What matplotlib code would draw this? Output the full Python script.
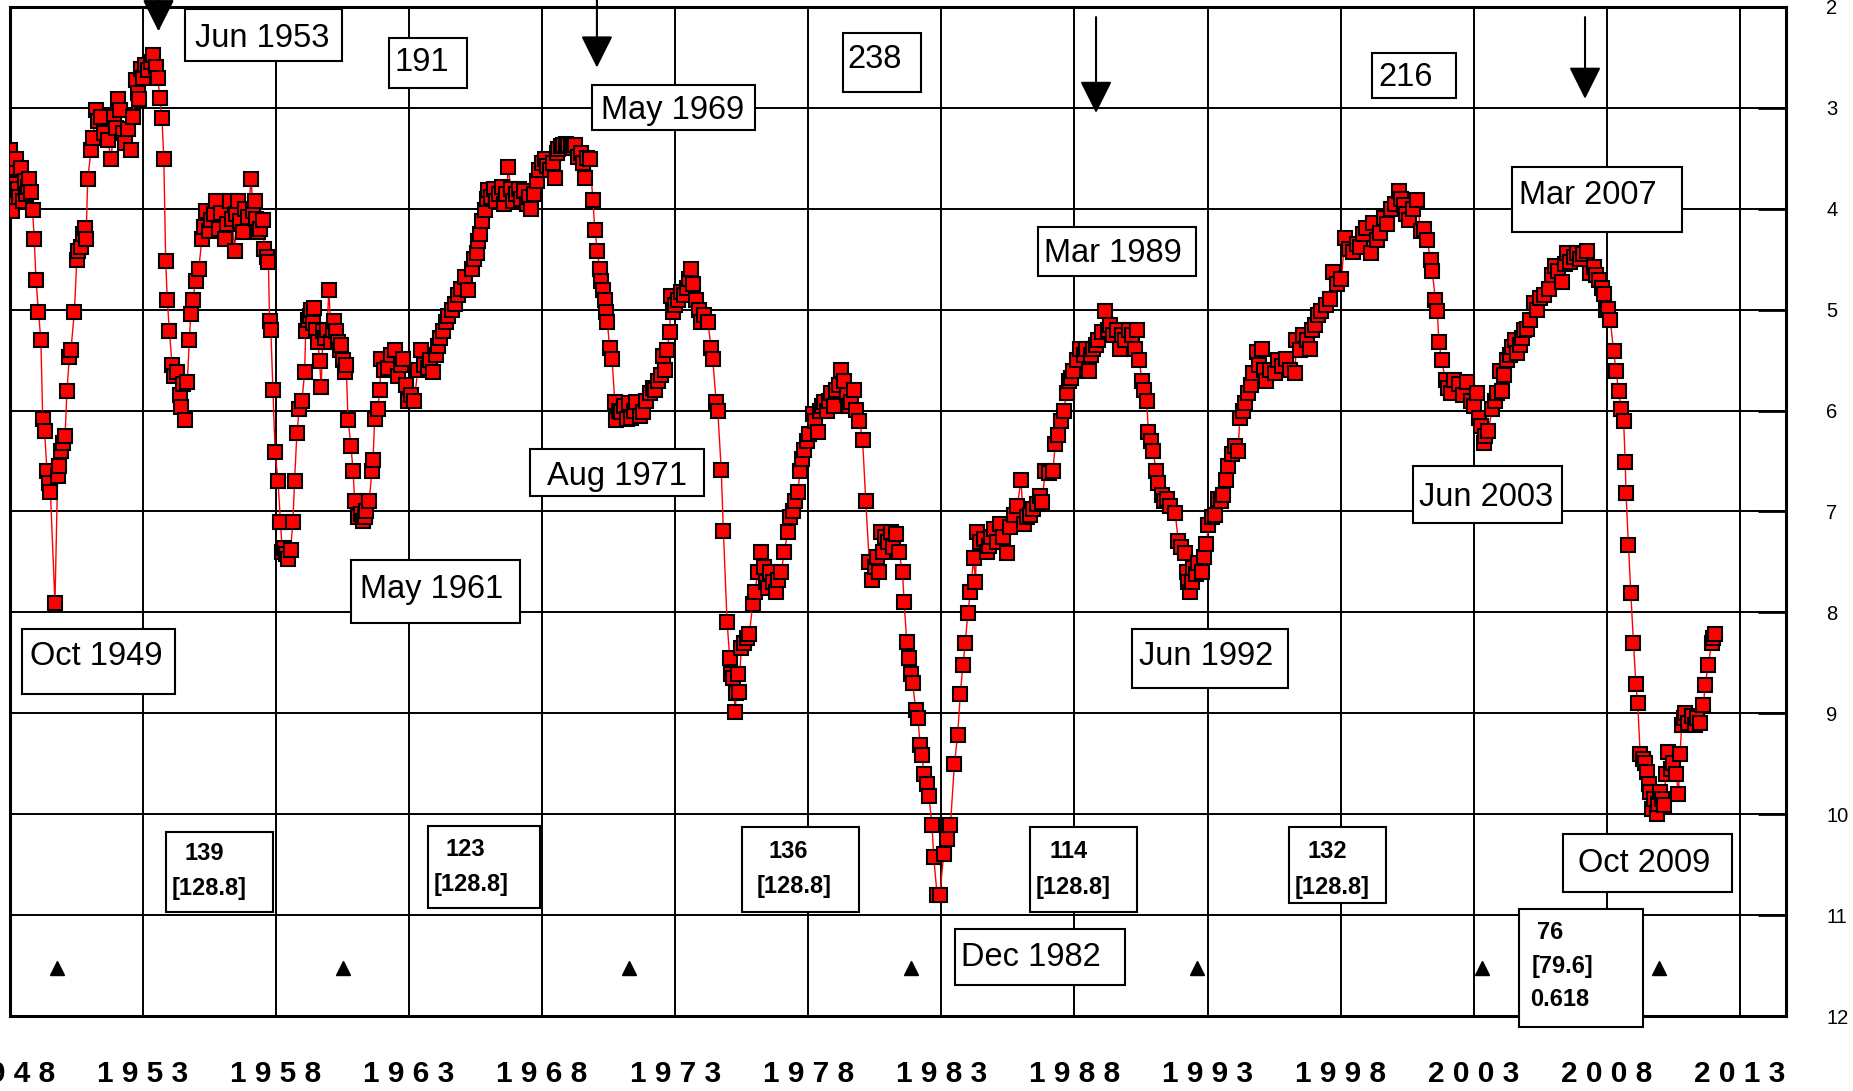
"""
Solar-cycle style ratio chart 1948-2012, red square markers, inverted right axis.
"""

import matplotlib
matplotlib.use("Agg")
import matplotlib.pyplot as plt
from matplotlib.patches import Rectangle

# ---------------------------------------------------------------- data
years = [
    1948.00, 1948.04, 1948.08, 1948.13, 1948.17, 1948.24, 1948.30, 1948.36, 1948.43, 1948.49,
    1948.56, 1948.62, 1948.68, 1948.74, 1948.80, 1948.86, 1948.92, 1948.99, 1949.08, 1949.17,
    1949.24, 1949.31, 1949.40, 1949.47, 1949.53, 1949.70, 1949.80, 1949.87, 1949.94, 1950.02,
    1950.08, 1950.15, 1950.24, 1950.30, 1950.43, 1950.52, 1950.58, 1950.66, 1950.75, 1950.82,
    1950.87, 1950.93, 1951.06, 1951.12, 1951.25, 1951.32, 1951.43, 1951.55, 1951.68, 1951.81,
    1951.93, 1952.00, 1952.06, 1952.15, 1952.25, 1952.35, 1952.44, 1952.56, 1952.62, 1952.75,
    1952.82, 1952.87, 1952.95, 1953.02, 1953.10, 1953.20, 1953.30, 1953.40, 1953.48, 1953.56,
    1953.64, 1953.72, 1953.79, 1953.86, 1953.92, 1954.00, 1954.10, 1954.19, 1954.30, 1954.38,
    1954.44, 1954.52, 1954.60, 1954.67, 1954.75, 1954.80, 1954.88, 1954.98, 1955.10, 1955.22,
    1955.30, 1955.38, 1955.47, 1955.57, 1955.66, 1955.76, 1955.85, 1955.95, 1956.07, 1956.16,
    1956.26, 1956.35, 1956.45, 1956.52, 1956.57, 1956.66, 1956.76, 1956.85, 1956.95, 1957.07,
    1957.14, 1957.20, 1957.26, 1957.32, 1957.42, 1957.51, 1957.57, 1957.65, 1957.72, 1957.76,
    1957.81, 1957.89, 1957.97, 1958.08, 1958.17, 1958.24, 1958.30, 1958.38, 1958.45, 1958.55,
    1958.64, 1958.70, 1958.79, 1958.88, 1958.98, 1959.08, 1959.12, 1959.20, 1959.27, 1959.33,
    1959.39, 1959.45, 1959.52, 1959.58, 1959.64, 1959.70, 1959.77, 1959.84, 1959.92, 1959.99,
    1960.08, 1960.14, 1960.20, 1960.27, 1960.33, 1960.39, 1960.46, 1960.52, 1960.58, 1960.64,
    1960.71, 1960.82, 1960.90, 1960.96, 1961.10, 1961.21, 1961.27, 1961.34, 1961.40, 1961.50,
    1961.61, 1961.65, 1961.71, 1961.83, 1961.90, 1961.96, 1962.05, 1962.20, 1962.33, 1962.46,
    1962.60, 1962.70, 1962.77, 1962.88, 1962.96, 1963.08, 1963.20, 1963.33, 1963.46, 1963.58,
    1963.71, 1963.80, 1963.90, 1964.00, 1964.09, 1964.18, 1964.28, 1964.38, 1964.47, 1964.60,
    1964.72, 1964.85, 1964.97, 1965.09, 1965.23, 1965.35, 1965.45, 1965.54, 1965.60, 1965.66,
    1965.75, 1965.85, 1965.92, 1965.98, 1966.08, 1966.18, 1966.28, 1966.38, 1966.48, 1966.58,
    1966.66, 1966.73, 1966.82, 1966.92, 1967.02, 1967.12, 1967.22, 1967.32, 1967.42, 1967.52,
    1967.60, 1967.70, 1967.80, 1967.90, 1968.00, 1968.10, 1968.20, 1968.30, 1968.40, 1968.48,
    1968.55, 1968.60, 1968.70, 1968.80, 1968.90, 1968.98, 1969.08, 1969.15, 1969.23, 1969.35,
    1969.45, 1969.52, 1969.60, 1969.70, 1969.79, 1969.91, 1969.98, 1970.08, 1970.16, 1970.23,
    1970.29, 1970.35, 1970.41, 1970.45, 1970.54, 1970.63, 1970.73, 1970.79, 1970.88, 1970.98,
    1971.08, 1971.18, 1971.26, 1971.35, 1971.45, 1971.54, 1971.66, 1971.79, 1971.92, 1972.04,
    1972.15, 1972.25, 1972.35, 1972.45, 1972.54, 1972.60, 1972.70, 1972.79, 1972.85, 1972.91,
    1973.00, 1973.10, 1973.23, 1973.35, 1973.45, 1973.52, 1973.60, 1973.68, 1973.79, 1973.88,
    1973.98, 1974.10, 1974.23, 1974.35, 1974.41, 1974.54, 1974.60, 1974.73, 1974.81, 1974.95,
    1975.05, 1975.10, 1975.18, 1975.25, 1975.30, 1975.35, 1975.40, 1975.48, 1975.60, 1975.70,
    1975.79, 1975.91, 1976.00, 1976.10, 1976.23, 1976.32, 1976.40, 1976.48, 1976.58, 1976.68,
    1976.79, 1976.88, 1976.98, 1977.10, 1977.23, 1977.32, 1977.41, 1977.50, 1977.60, 1977.70,
    1977.78, 1977.85, 1977.95, 1978.04, 1978.16, 1978.25, 1978.35, 1978.45, 1978.52, 1978.60,
    1978.70, 1978.78, 1978.85, 1978.95, 1979.05, 1979.15, 1979.23, 1979.35, 1979.45, 1979.52,
    1979.60, 1979.70, 1979.79, 1979.92, 1980.04, 1980.16, 1980.29, 1980.41, 1980.50, 1980.58,
    1980.66, 1980.73, 1980.82, 1980.90, 1981.00, 1981.10, 1981.20, 1981.30, 1981.41, 1981.54,
    1981.60, 1981.70, 1981.78, 1981.85, 1981.92, 1982.04, 1982.12, 1982.20, 1982.28, 1982.34,
    1982.45, 1982.53, 1982.65, 1982.71, 1982.84, 1982.94, 1983.09, 1983.21, 1983.34, 1983.49,
    1983.61, 1983.71, 1983.81, 1983.90, 1983.99, 1984.09, 1984.21, 1984.28, 1984.34, 1984.45,
    1984.59, 1984.70, 1984.78, 1984.88, 1984.96, 1985.08, 1985.21, 1985.33, 1985.46, 1985.58,
    1985.71, 1985.85, 1985.99, 1986.09, 1986.20, 1986.34, 1986.45, 1986.59, 1986.70, 1986.78,
    1986.90, 1987.05, 1987.19, 1987.28, 1987.40, 1987.50, 1987.59, 1987.71, 1987.78, 1987.88,
    1987.96, 1988.08, 1988.21, 1988.35, 1988.45, 1988.53, 1988.62, 1988.71, 1988.80, 1988.90,
    1989.02, 1989.15, 1989.25, 1989.35, 1989.46, 1989.58, 1989.71, 1989.80, 1989.90, 1990.03,
    1990.15, 1990.28, 1990.34, 1990.44, 1990.53, 1990.62, 1990.71, 1990.78, 1990.88, 1990.96,
    1991.06, 1991.15, 1991.28, 1991.38, 1991.46, 1991.60, 1991.78, 1991.90, 1992.02, 1992.15,
    1992.21, 1992.28, 1992.34, 1992.40, 1992.46, 1992.55, 1992.65, 1992.78, 1992.88, 1992.96,
    1993.03, 1993.15, 1993.28, 1993.40, 1993.50, 1993.59, 1993.71, 1993.78, 1993.90, 1994.02,
    1994.15, 1994.21, 1994.32, 1994.40, 1994.53, 1994.62, 1994.71, 1994.84, 1994.94, 1995.03,
    1995.12, 1995.21, 1995.35, 1995.53, 1995.65, 1995.78, 1995.96, 1996.10, 1996.28, 1996.34,
    1996.46, 1996.59, 1996.72, 1996.84, 1996.94, 1997.03, 1997.15, 1997.28, 1997.45, 1997.59,
    1997.71, 1997.85, 1998.03, 1998.15, 1998.30, 1998.46, 1998.60, 1998.71, 1998.85, 1998.96,
    1999.13, 1999.21, 1999.38, 1999.46, 1999.63, 1999.75, 1999.88, 2000.05, 2000.19, 2000.28,
    2000.38, 2000.47, 2000.56, 2000.70, 2000.88, 2001.00, 2001.12, 2001.25, 2001.38, 2001.44,
    2001.56, 2001.63, 2001.69, 2001.79, 2001.94, 2002.05, 2002.13, 2002.25, 2002.44, 2002.60,
    2002.75, 2002.88, 2003.00, 2003.13, 2003.19, 2003.28, 2003.38, 2003.44, 2003.55, 2003.69,
    2003.80, 2003.88, 2004.00, 2004.06, 2004.15, 2004.25, 2004.35, 2004.44, 2004.55, 2004.63,
    2004.72, 2004.81, 2004.90, 2005.00, 2005.13, 2005.25, 2005.38, 2005.50, 2005.65, 2005.81,
    2005.94, 2006.06, 2006.18, 2006.31, 2006.42, 2006.50, 2006.63, 2006.75, 2006.88, 2007.00,
    2007.12, 2007.25, 2007.38, 2007.50, 2007.60, 2007.69, 2007.80, 2007.88, 2007.97, 2008.06,
    2008.13, 2008.25, 2008.35, 2008.44, 2008.53, 2008.63, 2008.69, 2008.72, 2008.81, 2008.90,
    2009.00, 2009.09, 2009.16, 2009.25, 2009.35, 2009.44, 2009.50, 2009.57, 2009.63, 2009.69,
    2009.78, 2009.88, 2009.94, 2010.00, 2010.07, 2010.13, 2010.22, 2010.31, 2010.40, 2010.50,
    2010.60, 2010.69, 2010.75, 2010.81, 2010.88, 2010.94, 2011.06, 2011.19, 2011.30, 2011.40,
    2011.50, 2011.63, 2011.69, 2011.81, 2011.94, 2012.00, 2012.06,
]

values = [
    3.42, 3.95, 4.02, 3.60, 3.75, 3.51, 3.80, 3.88, 3.60, 3.92,
    3.72, 3.85, 3.78, 3.70, 3.83, 4.01, 4.30, 4.71, 5.02, 5.30,
    6.08, 6.20, 6.60, 6.72, 6.81, 7.91, 6.65, 6.55, 6.40, 6.32,
    6.25, 5.81, 5.47, 5.40, 5.02, 4.51, 4.42, 4.38, 4.25, 4.19,
    4.30, 3.70, 3.42, 3.30, 3.02, 3.13, 3.09, 3.25, 3.32, 3.51,
    3.09, 3.20, 2.91, 3.02, 3.25, 3.35, 3.21, 3.42, 3.09, 2.72,
    2.85, 2.91, 2.61, 2.70, 2.57, 2.62, 2.55, 2.48, 2.59, 2.70,
    2.90, 3.10, 3.51, 4.52, 4.90, 5.21, 5.55, 5.66, 5.62, 5.85,
    5.96, 5.74, 6.09, 5.72, 5.30, 5.04, 4.90, 4.72, 4.60, 4.30,
    4.18, 4.02, 4.22, 4.11, 4.05, 3.92, 4.20, 4.04, 4.30, 4.15,
    3.92, 4.10, 4.42, 4.05, 3.92, 4.12, 4.23, 4.00, 4.08, 3.70,
    4.02, 3.92, 4.10, 4.23, 4.20, 4.11, 4.40, 4.48, 4.53, 5.11,
    5.20, 5.80, 6.41, 6.70, 7.10, 7.40, 7.36, 7.42, 7.47, 7.38,
    7.10, 6.70, 6.22, 5.98, 5.90, 5.62, 5.21, 5.10, 5.06, 5.00,
    5.13, 4.98, 5.20, 5.32, 5.51, 5.77, 5.21, 5.28, 5.20, 4.80,
    5.32, 5.20, 5.11, 5.21, 5.32, 5.40, 5.35, 5.50, 5.62, 5.55,
    6.09, 6.35, 6.60, 6.90, 7.05, 7.02, 7.09, 7.05, 7.00, 6.90,
    6.60, 6.49, 6.08, 5.98, 5.80, 5.49, 5.60, 5.58, 5.45, 5.40,
    5.66, 5.55, 5.49, 5.75, 5.90, 5.85, 5.90, 5.60, 5.40, 5.55,
    5.58, 5.50, 5.62, 5.45, 5.36, 5.28, 5.21, 5.12, 5.06, 5.00,
    4.94, 4.85, 4.79, 4.68, 4.80, 4.60, 4.50, 4.44, 4.32, 4.25,
    4.12, 4.01, 3.90, 3.81, 3.88, 3.80, 3.92, 3.85, 3.78, 3.95,
    3.85, 3.59, 3.80, 3.92, 3.85, 3.80, 3.90, 3.82, 3.95, 3.88,
    4.00, 3.85, 3.72, 3.62, 3.55, 3.51, 3.58, 3.62, 3.55, 3.69,
    3.45, 3.41, 3.38, 3.37, 3.36, 3.37, 3.38, 3.40, 3.37, 3.49,
    3.45, 3.55, 3.69, 3.50, 3.51, 3.91, 4.21, 4.42, 4.60, 4.72,
    4.80, 4.90, 5.02, 5.12, 5.38, 5.49, 5.91, 6.09, 6.00, 6.01,
    5.95, 6.08, 5.92, 6.07, 6.00, 5.91, 6.05, 6.01, 5.90, 5.83,
    5.78, 5.80, 5.71, 5.65, 5.46, 5.60, 5.40, 5.22, 4.86, 5.02,
    4.95, 4.90, 4.82, 4.85, 4.78, 4.70, 4.60, 4.75, 4.90, 5.00,
    5.12, 5.05, 5.12, 5.38, 5.49, 5.91, 6.00, 6.59, 7.19, 8.10,
    8.45, 8.61, 8.65, 8.99, 8.80, 8.61, 8.79, 8.35, 8.30, 8.25,
    8.21, 7.92, 7.80, 7.60, 7.40, 7.55, 7.70, 7.76, 7.60, 7.70,
    7.80, 7.68, 7.60, 7.40, 7.20, 7.05, 7.00, 6.90, 6.81, 6.60,
    6.48, 6.39, 6.30, 6.23, 6.03, 6.10, 6.21, 6.00, 5.95, 5.91,
    6.00, 5.90, 5.83, 5.95, 5.80, 5.75, 5.60, 5.71, 5.85, 5.95,
    5.91, 5.80, 5.99, 6.10, 6.29, 6.90, 7.50, 7.68, 7.55, 7.45,
    7.60, 7.20, 7.40, 7.25, 7.30, 7.20, 7.35, 7.22, 7.40, 7.60,
    7.90, 8.29, 8.45, 8.61, 8.70, 8.97, 9.05, 9.31, 9.41, 9.60,
    9.70, 9.82, 10.11, 10.42, 10.80, 10.80, 10.39, 10.25, 10.11, 9.50,
    9.22, 8.81, 8.52, 8.30, 8.01, 7.80, 7.46, 7.70, 7.20, 7.30,
    7.27, 7.40, 7.34, 7.25, 7.17, 7.30, 7.12, 7.25, 7.41, 7.15,
    7.03, 6.95, 6.69, 7.12, 7.05, 7.03, 6.98, 6.93, 6.85, 6.91,
    6.60, 6.62, 6.60, 6.33, 6.24, 6.10, 6.00, 5.83, 5.71, 5.68,
    5.61, 5.50, 5.39, 5.45, 5.39, 5.61, 5.45, 5.39, 5.35, 5.30,
    5.22, 5.01, 5.20, 5.15, 5.25, 5.20, 5.39, 5.25, 5.30, 5.20,
    5.25, 5.39, 5.20, 5.50, 5.71, 5.80, 5.90, 6.21, 6.30, 6.40,
    6.60, 6.72, 6.84, 6.90, 6.88, 6.95, 7.01, 7.29, 7.35, 7.41,
    7.60, 7.70, 7.80, 7.70, 7.56, 7.62, 7.51, 7.60, 7.45, 7.32,
    7.13, 7.05, 7.03, 6.88, 6.90, 6.84, 6.69, 6.55, 6.43, 6.35,
    6.40, 6.07, 6.00, 5.92, 5.83, 5.75, 5.63, 5.42, 5.55, 5.39,
    5.60, 5.71, 5.60, 5.63, 5.50, 5.56, 5.49, 5.60, 5.63, 5.30,
    5.40, 5.25, 5.30, 5.39, 5.20, 5.15, 5.05, 5.01, 4.95, 4.89,
    4.63, 4.75, 4.70, 4.29, 4.40, 4.43, 4.35, 4.38, 4.25, 4.19,
    4.44, 4.14, 4.31, 4.24, 4.09, 4.15, 4.00, 3.95, 3.82, 3.90,
    3.96, 4.05, 4.11, 4.00, 3.91, 4.22, 4.20, 4.31, 4.51, 4.62,
    4.90, 5.01, 5.32, 5.50, 5.70, 5.78, 5.83, 5.70, 5.74, 5.85,
    5.72, 5.90, 5.95, 5.83, 6.07, 6.15, 6.32, 6.25, 6.20, 5.98,
    5.90, 5.83, 5.61, 5.81, 5.65, 5.50, 5.45, 5.37, 5.30, 5.43,
    5.35, 5.28, 5.20, 5.19, 5.10, 4.93, 5.00, 4.88, 4.85, 4.79,
    4.66, 4.57, 4.62, 4.73, 4.55, 4.44, 4.53, 4.48, 4.44, 4.50,
    4.45, 4.42, 4.64, 4.58, 4.66, 4.71, 4.78, 4.84, 5.00, 4.99,
    5.10, 5.41, 5.61, 5.81, 5.98, 6.10, 6.51, 6.82, 7.33, 7.81,
    8.30, 8.71, 8.90, 9.40, 9.45, 9.49, 9.58, 9.70, 9.78, 9.95,
    9.85, 10.00, 9.90, 9.78, 9.85, 9.91, 9.60, 9.38, 9.55, 9.49,
    9.60, 9.80, 9.40, 9.12, 9.05, 9.00, 9.10, 9.03, 9.12, 9.05,
    9.10, 8.92, 8.72, 8.52, 8.30, 8.25, 8.21,
]

# small black triangles along the bottom row (cycle minima)
minima_years = [1949.78, 1960.53, 1971.27, 1981.86, 1992.61, 2003.32, 2009.97]
MINIMA_LEVEL = 11.52

# date / peak labels: text, text x, text y, box x0, x1, y0, y1
date_labels = [
    ("Jun 1953", 1957.50, 2.28, 1954.57, 1960.47, 2.02, 2.54),
    ("191", 1963.48, 2.52, 1962.24, 1965.17, 2.31, 2.80),
    ("May 1969", 1972.92, 3.00, 1969.87, 1975.98, 2.77, 3.22),
    ("238", 1980.50, 2.49, 1979.31, 1982.23, 2.26, 2.84),
    ("Aug 1971", 1970.80, 6.62, 1967.56, 1974.08, 6.38, 6.85),
    ("Oct 1949", 1951.25, 8.41, 1948.45, 1954.22, 8.16, 8.81),
    ("May 1961", 1963.84, 7.74, 1960.82, 1967.16, 7.48, 8.11),
    ("Mar 1989", 1989.46, 4.41, 1986.62, 1992.56, 4.18, 4.67),
    ("Jun 1992", 1992.96, 8.41, 1990.17, 1996.02, 8.16, 8.75),
    ("216", 2000.45, 2.67, 1999.17, 2002.32, 2.46, 2.90),
    ("Mar 2007", 2007.28, 3.84, 2004.44, 2010.83, 3.59, 4.23),
    ("Jun 2003", 2003.47, 6.83, 2000.72, 2006.31, 6.55, 7.11),
    ("Oct 2009", 2009.41, 10.46, 2006.35, 2012.69, 10.20, 10.77),
    ("Dec 1982", 1986.36, 11.39, 1983.52, 1989.90, 11.14, 11.69),
]

# cycle amplitude boxes: box x0, x1, y0, y1 and the lines inside (text, x, y)
cycle_boxes = [
    ((1953.88, 1957.89, 10.18, 10.97), [("139", 1955.32, 10.37), ("[128.8]", 1955.49, 10.72)]),
    ((1963.70, 1967.91, 10.12, 10.93), [("123", 1965.12, 10.33), ("[128.8]", 1965.33, 10.68)]),
    ((1975.51, 1979.90, 10.13, 10.97), [("136", 1977.24, 10.35), ("[128.8]", 1977.45, 10.70)]),
    ((1986.33, 1990.35, 10.13, 10.97), [("114", 1987.76, 10.35), ("[128.8]", 1987.96, 10.71)]),
    ((1996.06, 1999.70, 10.13, 10.88), [("132", 1997.49, 10.35), ("[128.8]", 1997.68, 10.71)]),
    ((2004.70, 2009.36, 10.94, 12.11), [("76", 2005.86, 11.15), ("[79.6]", 2006.33, 11.49),
                                        ("0.618", 2006.24, 11.82)]),
]

# down arrows: x, top y, tip y
arrows = [(1953.59, 1.90, 2.24), (1970.06, 1.90, 2.60), (1988.81, 2.10, 3.05), (2007.18, 2.10, 2.91)]

x_ticks = list(range(1948, 2014, 5))
y_ticks = list(range(2, 13))

plt.rcParams["font.family"] = ["Liberation Sans", "DejaVu Sans"]

# ---------------------------------------------------------------- figure
W, H = 1853, 1091
fig = plt.figure(figsize=(W / 100, H / 100), dpi=100)
ax = fig.add_axes([9.7 / W, 1 - 1016 / H, (1786 - 9.7) / W, 1009 / H])
ax.set_xlim(1948, 2014.73)
ax.set_ylim(12, 2)

ax.plot(years, values, color="red", lw=1.0, marker="s", ms=9.5,
        mfc="red", mec="black", mew=1.5, zorder=3)

ax.plot(minima_years, [MINIMA_LEVEL] * len(minima_years), "^", color="black", ms=10, zorder=3)

for s in ax.spines.values():
    s.set_linewidth(2.2)

ax.set_xticks(x_ticks)
ax.set_xticklabels([" ".join(str(y)) for y in x_ticks], fontweight="bold", fontsize=21.5)
ax.tick_params(axis="x", length=0, pad=32)

ax.yaxis.tick_right()
ax.set_yticks(y_ticks)
ax.set_yticklabels([str(v) for v in y_ticks], fontsize=14.5)
ax.tick_params(axis="y", direction="in", length=20, width=2, pad=29)

ax.grid(True, color="black", lw=1.4, zorder=1)
ax.set_axisbelow(True)

for text, tx, ty, x0, x1, y0, y1 in date_labels:
    ax.add_patch(Rectangle((x0, y0), x1 - x0, y1 - y0, facecolor="white",
                           edgecolor="black", lw=1.5, zorder=5, clip_on=False))
    ax.text(tx, ty + 0.03, text, ha="center", va="center", fontsize=23.5, zorder=6)

for (x0, x1, y0, y1), lines in cycle_boxes:
    ax.add_patch(Rectangle((x0, y0), x1 - x0, y1 - y0, facecolor="white",
                           edgecolor="black", lw=1.5, zorder=5, clip_on=False))
    for text, tx, ty in lines:
        ax.text(tx, ty + 0.02, text, ha="center", va="center", fontsize=17,
                fontweight="bold", zorder=6, clip_on=False)

for x, top, tip in arrows:
    ax.annotate("", xy=(x, tip), xytext=(x, top), annotation_clip=False,
                arrowprops=dict(arrowstyle="-|>,head_length=0.8,head_width=0.4",
                                mutation_scale=25, color="black", lw=1.5,
                                shrinkA=0, shrinkB=0), zorder=6)

fig.savefig("out.png", dpi=100)
